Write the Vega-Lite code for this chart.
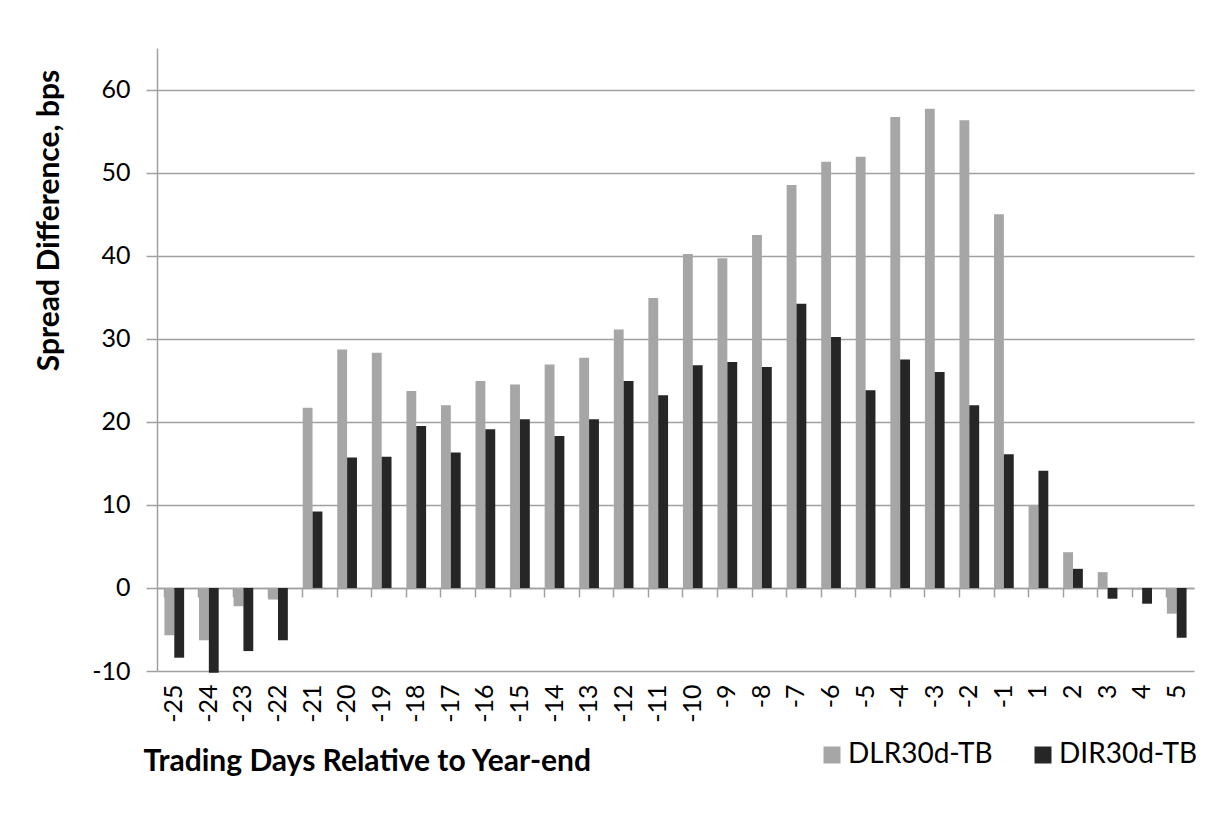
{
  "$schema": "https://vega.github.io/schema/vega-lite/v6.json",
  "width": 1037,
  "height": 623,
  "autosize": {"type": "none"},
  "padding": {"left": 157, "top": 48, "right": 31, "bottom": 144},
  "background": "white",
  "config": {
    "font": "Lato",
    "view": {"stroke": null},
    "axis": {"labelFont": "Lato", "titleFont": "Lato", "labelColor": "#000000", "titleColor": "#000000"}
  },
  "data": {
    "values": [
      {"day": "-25", "series": "DLR30d-TB", "value": -5.7}, {"day": "-25", "series": "DIR30d-TB", "value": -8.4},
      {"day": "-24", "series": "DLR30d-TB", "value": -6.3}, {"day": "-24", "series": "DIR30d-TB", "value": -10.2},
      {"day": "-23", "series": "DLR30d-TB", "value": -2.2}, {"day": "-23", "series": "DIR30d-TB", "value": -7.6},
      {"day": "-22", "series": "DLR30d-TB", "value": -1.4}, {"day": "-22", "series": "DIR30d-TB", "value": -6.3},
      {"day": "-21", "series": "DLR30d-TB", "value": 21.7}, {"day": "-21", "series": "DIR30d-TB", "value": 9.2},
      {"day": "-20", "series": "DLR30d-TB", "value": 28.7}, {"day": "-20", "series": "DIR30d-TB", "value": 15.7},
      {"day": "-19", "series": "DLR30d-TB", "value": 28.3}, {"day": "-19", "series": "DIR30d-TB", "value": 15.8},
      {"day": "-18", "series": "DLR30d-TB", "value": 23.7}, {"day": "-18", "series": "DIR30d-TB", "value": 19.5},
      {"day": "-17", "series": "DLR30d-TB", "value": 22.0}, {"day": "-17", "series": "DIR30d-TB", "value": 16.3},
      {"day": "-16", "series": "DLR30d-TB", "value": 24.9}, {"day": "-16", "series": "DIR30d-TB", "value": 19.1},
      {"day": "-15", "series": "DLR30d-TB", "value": 24.5}, {"day": "-15", "series": "DIR30d-TB", "value": 20.3},
      {"day": "-14", "series": "DLR30d-TB", "value": 26.9}, {"day": "-14", "series": "DIR30d-TB", "value": 18.3},
      {"day": "-13", "series": "DLR30d-TB", "value": 27.7}, {"day": "-13", "series": "DIR30d-TB", "value": 20.3},
      {"day": "-12", "series": "DLR30d-TB", "value": 31.1}, {"day": "-12", "series": "DIR30d-TB", "value": 24.9},
      {"day": "-11", "series": "DLR30d-TB", "value": 34.9}, {"day": "-11", "series": "DIR30d-TB", "value": 23.2},
      {"day": "-10", "series": "DLR30d-TB", "value": 40.2}, {"day": "-10", "series": "DIR30d-TB", "value": 26.8},
      {"day": "-9", "series": "DLR30d-TB", "value": 39.7}, {"day": "-9", "series": "DIR30d-TB", "value": 27.2},
      {"day": "-8", "series": "DLR30d-TB", "value": 42.5}, {"day": "-8", "series": "DIR30d-TB", "value": 26.6},
      {"day": "-7", "series": "DLR30d-TB", "value": 48.5}, {"day": "-7", "series": "DIR30d-TB", "value": 34.2},
      {"day": "-6", "series": "DLR30d-TB", "value": 51.3}, {"day": "-6", "series": "DIR30d-TB", "value": 30.2},
      {"day": "-5", "series": "DLR30d-TB", "value": 51.9}, {"day": "-5", "series": "DIR30d-TB", "value": 23.8},
      {"day": "-4", "series": "DLR30d-TB", "value": 56.7}, {"day": "-4", "series": "DIR30d-TB", "value": 27.5},
      {"day": "-3", "series": "DLR30d-TB", "value": 57.7}, {"day": "-3", "series": "DIR30d-TB", "value": 26.0},
      {"day": "-2", "series": "DLR30d-TB", "value": 56.3}, {"day": "-2", "series": "DIR30d-TB", "value": 22.0},
      {"day": "-1", "series": "DLR30d-TB", "value": 45.0}, {"day": "-1", "series": "DIR30d-TB", "value": 16.1},
      {"day": "1", "series": "DLR30d-TB", "value": 10.0}, {"day": "1", "series": "DIR30d-TB", "value": 14.1},
      {"day": "2", "series": "DLR30d-TB", "value": 4.3}, {"day": "2", "series": "DIR30d-TB", "value": 2.3},
      {"day": "3", "series": "DLR30d-TB", "value": 1.9}, {"day": "3", "series": "DIR30d-TB", "value": -1.3},
      {"day": "4", "series": "DLR30d-TB", "value": -0.2}, {"day": "4", "series": "DIR30d-TB", "value": -1.9},
      {"day": "5", "series": "DLR30d-TB", "value": -3.1}, {"day": "5", "series": "DIR30d-TB", "value": -6.0}
    ]
  },
  "encoding": {
    "x": {
      "field": "day", "type": "nominal", "sort": null,
      "scale": {"paddingInner": 0.43, "paddingOuter": 0.215},
      "axis": {
        "orient": "bottom", "domain": false, "ticks": false, "grid": false,
        "labelAngle": 270, "labelAlign": "right", "labelBaseline": "middle",
        "labelFontSize": 25, "labelPadding": 13,
        "title": "Trading Days Relative to Year-end",
        "titleFontSize": 30, "titleFontWeight": "bold",
        "titleX": -14, "titleY": 99, "titleAlign": "left", "titleAnchor": "start", "titleBaseline": "alphabetic"
      }
    },
    "y": {
      "field": "value", "type": "quantitative",
      "scale": {"domain": [-10, 65], "nice": false, "zero": false},
      "axis": {
        "values": [-10, 0, 10, 20, 30, 40, 50, 60],
        "labelExpr": "'' + datum.value",
        "grid": true, "gridColor": "#a0a0a0", "gridWidth": 1.5,
        "domainColor": "#a0a0a0", "domainWidth": 1.5,
        "tickColor": "#a0a0a0", "tickWidth": 1.5, "tickSize": 11,
        "labelFontSize": 25, "labelPadding": 16,
        "title": "Spread Difference, bps",
        "titleFontSize": 30, "titleFontWeight": "bold",
        "titleX": -108, "titleY": 172, "titleAngle": 270, "titleAlign": "center", "titleBaseline": "middle"
      }
    }
  },
  "layer": [
    {
      "mark": {"type": "bar", "strokeWidth": 0},
      "encoding": {
        "xOffset": {"field": "series", "type": "nominal", "sort": ["DLR30d-TB", "DIR30d-TB"], "scale": {"paddingInner": 0, "paddingOuter": 0}},
        "color": {
          "field": "series", "type": "nominal",
          "scale": {"domain": ["DLR30d-TB", "DIR30d-TB"], "range": ["#a6a6a6", "#262626"]},
          "legend": {
            "title": null, "orient": "none", "direction": "horizontal",
            "legendX": 661, "legendY": 693, "padding": 0,
            "symbolType": "square", "symbolSize": 289, "symbolStrokeWidth": 0,
            "labelFont": "Lato", "labelFontSize": 28, "labelColor": "#000000",
            "labelOffset": 2, "columnPadding": 36, "labelLimit": 400
          }
        }
      }
    },
    {
      "mark": {"type": "point", "opacity": 0},
      "encoding": {
        "x": {
          "field": "day", "type": "nominal", "sort": null,
          "axis": {
            "orient": "bottom", "offset": -83, "labels": false, "title": null, "grid": false,
            "domain": true, "domainColor": "#a0a0a0", "domainWidth": 1.5,
            "ticks": true, "tickColor": "#a0a0a0", "tickWidth": 1.5, "tickSize": 9,
            "bandPosition": 0
          }
        }
      }
    }
  ],
  "resolve": {"axis": {"x": "independent"}}
}
